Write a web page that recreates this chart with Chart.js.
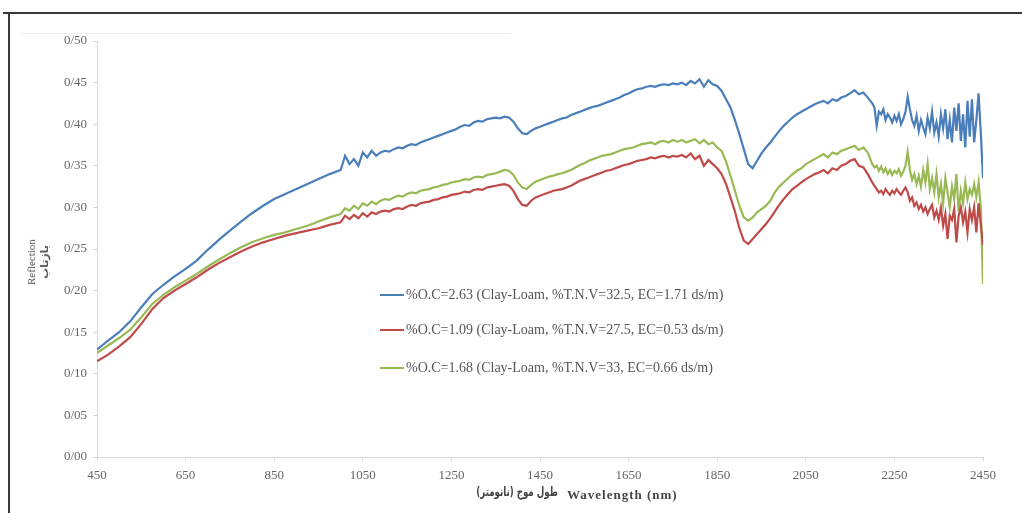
<!DOCTYPE html>
<html>
<head>
<meta charset="utf-8">
<script src="https://cdn.jsdelivr.net/npm/chart.js@4.4.1/dist/chart.umd.min.js"></script>
<style>
    body { margin: 0; background: #fff; }
    #wrap { position: relative; width: 1022px; height: 513px; background: #fff; overflow: hidden; }
    #chart { position: absolute; left: 0; top: 0; }
    .frame { position: absolute; background: #3a3a3a; }
    .legend-row { position: absolute; left: 380px; height: 18px; display: flex; align-items: center;
        font-family: "Liberation Serif", serif; font-size: 14px; color: #555; white-space: nowrap; }
    .legend-line { display: inline-block; width: 24px; height: 2px; margin-right: 2px; }
    #ytitle { position: absolute; left: 38px; top: 262px; transform: translate(-50%, -50%) rotate(-90deg);
        text-align: center; line-height: 13px; color: #555; white-space: nowrap; }
    #xtitle-fa { position: absolute; left: 462px; top: 484px; width: 110px; text-align: center; color: #444; white-space: nowrap;
        font-family: "DejaVu Sans Condensed", "DejaVu Sans", sans-serif; font-size: 13px; font-weight: bold; }
    #xtitle-fa span { display: inline-block; transform: scaleX(0.74); }
    #xtitle-en { position: absolute; left: 567px; top: 487px; color: #444; white-space: nowrap;
        font-family: "Liberation Serif", serif; font-size: 13px; font-weight: bold; letter-spacing: 1px; }
</style>
</head>
<body>
<div id="wrap">
    <div class="frame" style="left:3px; top:12px; width:1019px; height:2px;"></div>
    <div class="frame" style="left:8px; top:12px; width:2px; height:501px;"></div>
    <div style="position:absolute; left:20px; top:33px; width:490px; height:1px; background:#eee;"></div>
    <canvas id="chart" width="1022" height="513"></canvas>
    <div id="legend"></div>
    <div id="ytitle">
        <div style="font-family:'Liberation Serif',serif; font-size:11px;">Reflection</div>
        <div style="font-family:'DejaVu Sans',sans-serif; font-size:11px; font-weight:bold;">بازتاب</div>
    </div>
    <div id="xtitle-fa"><span>طول موج (نانومتر)</span></div>
    <div id="xtitle-en">Wavelength (nm)</div>
</div>
<script>
// Wavelength grid (nm) the spectra were read at
const wavelengths = [
    450, 475, 500, 525, 550, 575, 600, 625, 650, 675, 700, 725, 750, 775, 800, 825, 850, 875, 900, 925, 950, 975,
    1000, 1010, 1020, 1030, 1040, 1050, 1060, 1070, 1080, 1090,
    1100, 1110, 1120, 1130, 1140, 1150, 1160, 1170, 1180, 1190,
    1200, 1210, 1220, 1230, 1240, 1250, 1260, 1270, 1280, 1290,
    1300, 1310, 1320, 1330, 1340, 1350, 1360, 1370, 1380, 1390,
    1400, 1410, 1420, 1430, 1440, 1450, 1460, 1470, 1480, 1490,
    1500, 1510, 1520, 1530, 1540, 1550, 1560, 1570, 1580, 1590,
    1600, 1610, 1620, 1630, 1640, 1650, 1660, 1670, 1680, 1690,
    1700, 1710, 1720, 1730, 1740, 1750, 1760, 1770, 1780, 1790,
    1800, 1810, 1820, 1830, 1840, 1850, 1860, 1870, 1880, 1890,
    1900, 1910, 1920, 1930, 1940, 1950, 1960, 1970, 1980, 1990,
    2000, 2010, 2020, 2030, 2040, 2050, 2060, 2070, 2080, 2090,
    2100, 2110, 2120, 2130, 2140, 2150, 2160, 2170, 2180, 2190,
    2200, 2205, 2210, 2215, 2220, 2225, 2230, 2235, 2240, 2245, 2250, 2255, 2260, 2265, 2270, 2275, 2280, 2285, 2290, 2295,
    2300, 2305, 2310, 2315, 2320, 2325, 2330, 2335, 2340, 2345, 2350, 2355, 2360, 2365, 2370, 2375, 2380, 2385, 2390, 2395,
    2400, 2405, 2410, 2415, 2420, 2425, 2430, 2435, 2440, 2445, 2450
];

// %O.C=2.63 sample (blue)
const reflOC263 = [
    0.129, 0.140, 0.150, 0.163, 0.180, 0.196, 0.207, 0.217, 0.226, 0.236, 0.249, 0.261, 0.272, 0.283, 0.293, 0.302, 0.310, 0.316, 0.322, 0.328, 0.334, 0.340,
    0.345, 0.362, 0.352, 0.358, 0.350, 0.366, 0.360, 0.368, 0.362, 0.366,
    0.368, 0.367, 0.370, 0.372, 0.371, 0.374, 0.376, 0.375, 0.378, 0.380,
    0.382, 0.384, 0.386, 0.388, 0.390, 0.392, 0.394, 0.397, 0.399, 0.398,
    0.402, 0.404, 0.403, 0.406, 0.407, 0.408, 0.407, 0.409, 0.408, 0.403,
    0.395, 0.389, 0.388, 0.392, 0.395, 0.397, 0.399, 0.401, 0.403, 0.405,
    0.407, 0.408, 0.411, 0.413, 0.415, 0.417, 0.419, 0.421, 0.422, 0.424,
    0.426, 0.428, 0.430, 0.432, 0.435, 0.437, 0.440, 0.442, 0.443, 0.445,
    0.446, 0.445, 0.447, 0.448, 0.447, 0.449, 0.448, 0.450, 0.447, 0.452,
    0.449, 0.454, 0.445, 0.453, 0.448, 0.446, 0.440, 0.430, 0.420, 0.405,
    0.388, 0.370, 0.352, 0.347, 0.356, 0.365, 0.372, 0.378, 0.385, 0.392,
    0.398, 0.403, 0.408, 0.412, 0.415, 0.418, 0.421, 0.424, 0.426, 0.428,
    0.425, 0.430, 0.428, 0.432, 0.434, 0.437, 0.441, 0.436, 0.438, 0.432,
    0.425, 0.420, 0.398, 0.415, 0.412, 0.418, 0.405, 0.412, 0.408, 0.402, 0.410, 0.404, 0.412, 0.400, 0.406, 0.415, 0.433, 0.418, 0.405, 0.398,
    0.410, 0.392, 0.405, 0.396, 0.388, 0.408, 0.395, 0.415, 0.390, 0.402, 0.385, 0.412, 0.395, 0.418, 0.382, 0.405, 0.378, 0.420, 0.392, 0.425,
    0.380, 0.412, 0.372, 0.428, 0.385, 0.430, 0.378, 0.405, 0.437, 0.390, 0.335
];

// %O.C=1.09 sample (red)
const reflOC109 = [
    0.115, 0.123, 0.133, 0.144, 0.160, 0.178, 0.191, 0.200, 0.208, 0.216, 0.225, 0.233, 0.240, 0.247, 0.253, 0.258, 0.262, 0.266, 0.269, 0.272, 0.275, 0.279,
    0.282, 0.290, 0.286, 0.291, 0.287, 0.293, 0.289, 0.294, 0.292, 0.295,
    0.296, 0.295, 0.298, 0.299, 0.298, 0.301, 0.303, 0.302, 0.305, 0.306,
    0.307, 0.309, 0.310, 0.312, 0.313, 0.315, 0.316, 0.317, 0.319, 0.318,
    0.321, 0.322, 0.321, 0.324, 0.325, 0.326, 0.327, 0.328, 0.326, 0.320,
    0.310, 0.303, 0.302, 0.308, 0.312, 0.314, 0.316, 0.318, 0.320, 0.321,
    0.322, 0.324, 0.326, 0.329, 0.332, 0.334, 0.336, 0.338, 0.340, 0.342,
    0.344, 0.345, 0.347, 0.349, 0.351, 0.352, 0.354, 0.356, 0.357, 0.358,
    0.360, 0.359, 0.361, 0.362, 0.360, 0.362, 0.361, 0.363, 0.360, 0.365,
    0.358, 0.362, 0.350, 0.357, 0.352, 0.347, 0.340, 0.328, 0.312, 0.295,
    0.275, 0.260, 0.256, 0.262, 0.268, 0.274, 0.280, 0.287, 0.295, 0.303,
    0.310, 0.316, 0.322, 0.326, 0.330, 0.334, 0.337, 0.340, 0.342, 0.345,
    0.341, 0.347, 0.345, 0.350, 0.352, 0.356, 0.358, 0.350, 0.348, 0.340,
    0.330, 0.326, 0.322, 0.318, 0.320, 0.316, 0.322, 0.318, 0.315, 0.320, 0.317, 0.322, 0.318, 0.315, 0.320, 0.324, 0.318, 0.308, 0.312, 0.302,
    0.306, 0.298, 0.303, 0.295, 0.300, 0.292, 0.298, 0.303, 0.288, 0.296, 0.285, 0.300, 0.278, 0.292, 0.262, 0.290, 0.285, 0.298, 0.258, 0.290,
    0.300, 0.282, 0.295, 0.270, 0.298, 0.285, 0.300, 0.270, 0.305, 0.280, 0.255
];

// %O.C=1.68 sample (green)
const reflOC168 = [
    0.125, 0.134, 0.143, 0.153, 0.168, 0.184, 0.195, 0.204, 0.212, 0.220, 0.229, 0.237, 0.245, 0.252, 0.258, 0.263, 0.267, 0.270, 0.274, 0.278, 0.283, 0.288,
    0.292, 0.299, 0.296, 0.302, 0.298, 0.305, 0.302, 0.307, 0.304, 0.308,
    0.310, 0.309, 0.312, 0.314, 0.313, 0.316, 0.318, 0.317, 0.320, 0.321,
    0.322, 0.324, 0.325, 0.327, 0.328, 0.330, 0.331, 0.332, 0.334, 0.333,
    0.336, 0.337, 0.336, 0.339, 0.340, 0.341, 0.343, 0.345, 0.344, 0.339,
    0.330, 0.324, 0.322, 0.327, 0.331, 0.333, 0.335, 0.337, 0.338, 0.340,
    0.341, 0.343, 0.345, 0.348, 0.351, 0.353, 0.356, 0.358, 0.360, 0.362,
    0.363, 0.364, 0.366, 0.368, 0.370, 0.371, 0.372, 0.374, 0.376, 0.377,
    0.378, 0.376, 0.379, 0.380, 0.378, 0.381, 0.379, 0.381, 0.378, 0.380,
    0.382, 0.377, 0.381, 0.376, 0.378, 0.372, 0.368, 0.355, 0.338, 0.320,
    0.302, 0.288, 0.284, 0.288, 0.294, 0.298, 0.302, 0.308, 0.318, 0.325,
    0.330, 0.335, 0.340, 0.344, 0.347, 0.352, 0.355, 0.358, 0.361, 0.364,
    0.360, 0.366, 0.364, 0.368, 0.370, 0.372, 0.374, 0.369, 0.372, 0.366,
    0.352, 0.348, 0.350, 0.344, 0.349, 0.342, 0.347, 0.340, 0.345, 0.339, 0.344, 0.341, 0.346, 0.338, 0.343, 0.350, 0.367, 0.345, 0.333, 0.340,
    0.328, 0.338, 0.325, 0.345, 0.330, 0.352, 0.322, 0.335, 0.318, 0.340, 0.312, 0.328, 0.305, 0.335, 0.318, 0.300, 0.325, 0.310, 0.340, 0.295,
    0.320, 0.305, 0.330, 0.310, 0.322, 0.315, 0.328, 0.312, 0.330, 0.300, 0.208
];

const seriesNames = [
    "%O.C=2.63 (Clay-Loam, %T.N.V=32.5, EC=1.71 ds/m)",
    "%O.C=1.09 (Clay-Loam, %T.N.V=27.5, EC=0.53 ds/m)",
    "%O.C=1.68 (Clay-Loam, %T.N.V=33, EC=0.66 ds/m)"
];
const seriesColors = ['#4a7ebb', '#be4b48', '#98b954'];

const xTickValues = [450, 650, 850, 1050, 1250, 1450, 1650, 1850, 2050, 2250, 2450];
const yTickValues = [0, 0.05, 0.10, 0.15, 0.20, 0.25, 0.30, 0.35, 0.40, 0.45, 0.50];
const yTickLabels = ['0/00', '0/05', '0/10', '0/15', '0/20', '0/25', '0/30', '0/35', '0/40', '0/45', '0/50'];

const seriesValues = [reflOC263, reflOC109, reflOC168];

// legend rows sit inside the plot, like the original
const legendTops = [286, 321, 359];
const legendEl = document.getElementById('legend');
seriesNames.forEach((name, i) => {
    const row = document.createElement('div');
    row.className = 'legend-row';
    row.style.top = legendTops[i] + 'px';
    row.innerHTML = `<span class="legend-line" style="background:${seriesColors[i]}"></span><span>${name}</span>`;
    legendEl.appendChild(row);
});

const tickFont = { family: "'Liberation Serif', serif", size: 13 };
const axisGrey = '#d9d9d9';

new Chart(document.getElementById('chart').getContext('2d'), {
    type: 'line',
    data: {
        datasets: seriesValues.map((vals, i) => ({
            label: seriesNames[i],
            data: wavelengths.map((w, j) => ({ x: w, y: vals[j] })),
            borderColor: seriesColors[i],
            borderWidth: 2.2,
            pointRadius: 0,
            tension: 0,
            fill: false
        }))
    },
    options: {
        responsive: false,
        animation: false,
        devicePixelRatio: 1,
        layout: { padding: { left: 0, right: 39, top: 41, bottom: 0 } },
        plugins: { legend: { display: false }, tooltip: { enabled: false } },
        scales: {
            x: {
                type: 'linear',
                min: 450,
                max: 2450,
                afterBuildTicks: scale => { scale.ticks = xTickValues.map(v => ({ value: v })); },
                afterFit: scale => { scale.height = 56; },
                ticks: { color: '#666', font: tickFont, padding: 7, maxRotation: 0, callback: v => String(v) },
                grid: { drawOnChartArea: false, tickLength: 4, color: axisGrey },
                border: { color: axisGrey }
            },
            y: {
                min: 0,
                max: 0.5,
                afterBuildTicks: scale => { scale.ticks = yTickValues.map(v => ({ value: v })); },
                afterFit: scale => { scale.width = 97; },
                ticks: { color: '#666', font: tickFont, padding: 6, callback: (v, i) => yTickLabels[i] },
                grid: { drawOnChartArea: false, tickLength: 4, color: axisGrey },
                border: { color: axisGrey }
            }
        }
    }
});
</script>
</body>
</html>
